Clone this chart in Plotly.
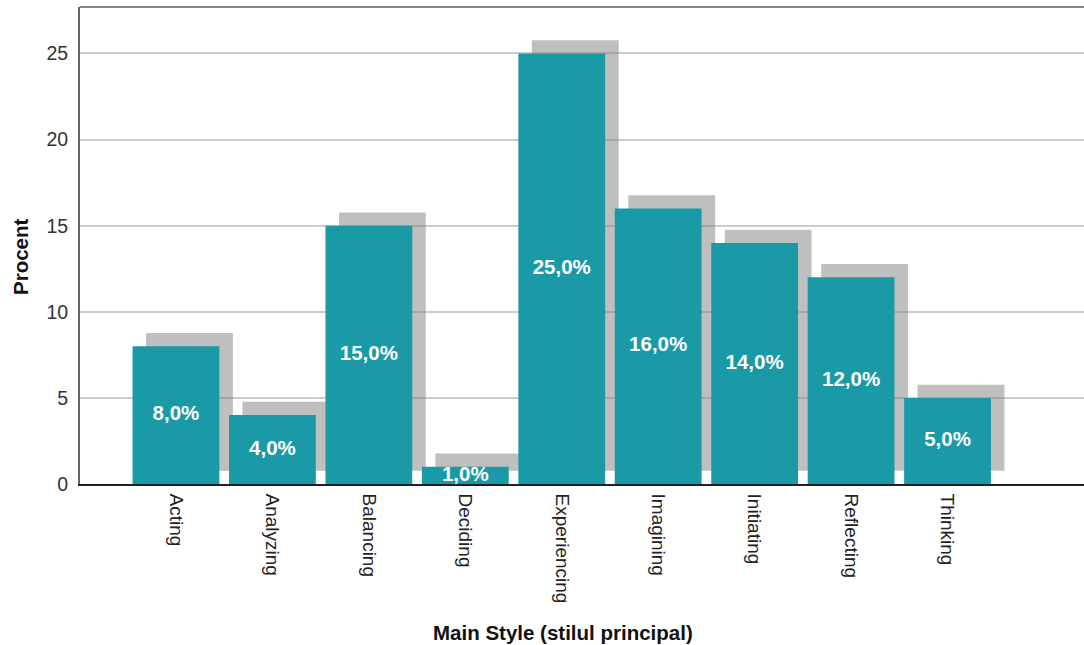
import plotly.graph_objects as go

categories = ["Acting", "Analyzing", "Balancing", "Deciding", "Experiencing",
              "Imagining", "Initiating", "Reflecting", "Thinking"]
percent = [8.0, 4.0, 15.0, 1.0, 25.0, 16.0, 14.0, 12.0, 5.0]
y_ticks = [0, 5, 10, 15, 20, 25]

labels = [f"<b>{v:.1f}%</b>".replace(".", ",") for v in percent]
half = [v / 2 for v in percent]

FONT = "Arial, Liberation Sans, sans-serif"
TEAL = "#1a99a7"
BW = 0.9
SHIFT_X = 0.14
SHIFT_Y = 0.77

fig = go.Figure()

# shadow bars
fig.add_trace(go.Bar(
    x=categories, y=percent, base=[SHIFT_Y] * len(percent),
    width=BW, offset=-BW / 2 + SHIFT_X,
    marker=dict(color="rgba(128,128,128,0.5)", line=dict(width=0)),
    hoverinfo="skip", showlegend=False,
))
# main bars
fig.add_trace(go.Bar(
    x=categories, y=percent, width=BW, offset=-BW / 2,
    marker=dict(color=TEAL, line=dict(width=0)),
    showlegend=False,
))
# labels
fig.add_trace(go.Scatter(
    x=categories, y=half, mode="text", text=labels,
    textfont=dict(family=FONT, size=20.5, color="white"),
    textposition="middle center", cliponaxis=True,
    hoverinfo="skip", showlegend=False,
))

fig.update_layout(
    width=1084, height=645,
    margin=dict(l=80, r=0, t=7, b=161),
    paper_bgcolor="white", plot_bgcolor="white",
    barmode="overlay",
    font=dict(family=FONT, size=19, color="#333333"),
    xaxis=dict(
        type="category", range=[-0.995, 9.415],
        tickangle=90, ticks="", showgrid=False,
        showline=True, linecolor="#222222", linewidth=1.5,
        tickfont=dict(family=FONT, size=19, color="#222222"),
        ticklabelstandoff=4,
    ),
    yaxis=dict(
        range=[0, 27.7], tickvals=y_ticks, ticks="",
        showgrid=True, gridcolor="#cccccc", gridwidth=1.5,
        zeroline=False,
        showline=True, linecolor="#666666", linewidth=2,
        tickfont=dict(family=FONT, size=19.5, color="#333333"),
        ticklabelstandoff=6,
    ),
    shapes=[dict(type="line", xref="paper", yref="paper", x0=0, x1=1, y0=1, y1=1,
                 line=dict(color="#888888", width=2))],
    annotations=[
        dict(text="<b>Procent</b>", xref="paper", yref="paper",
             x=(20 - 80) / 1004, y=(484 - 257) / 477, textangle=-90,
             showarrow=False, xanchor="center", yanchor="middle",
             font=dict(family=FONT, size=20.5, color="#111111")),
        dict(text="<b>Main Style (stilul principal)</b>", xref="paper", yref="paper",
             x=(563 - 80) / 1004, y=(484 - 632) / 477,
             showarrow=False, xanchor="center", yanchor="middle",
             font=dict(family=FONT, size=20.5, color="#111111")),
    ],
)

fig.write_html("out.html")
